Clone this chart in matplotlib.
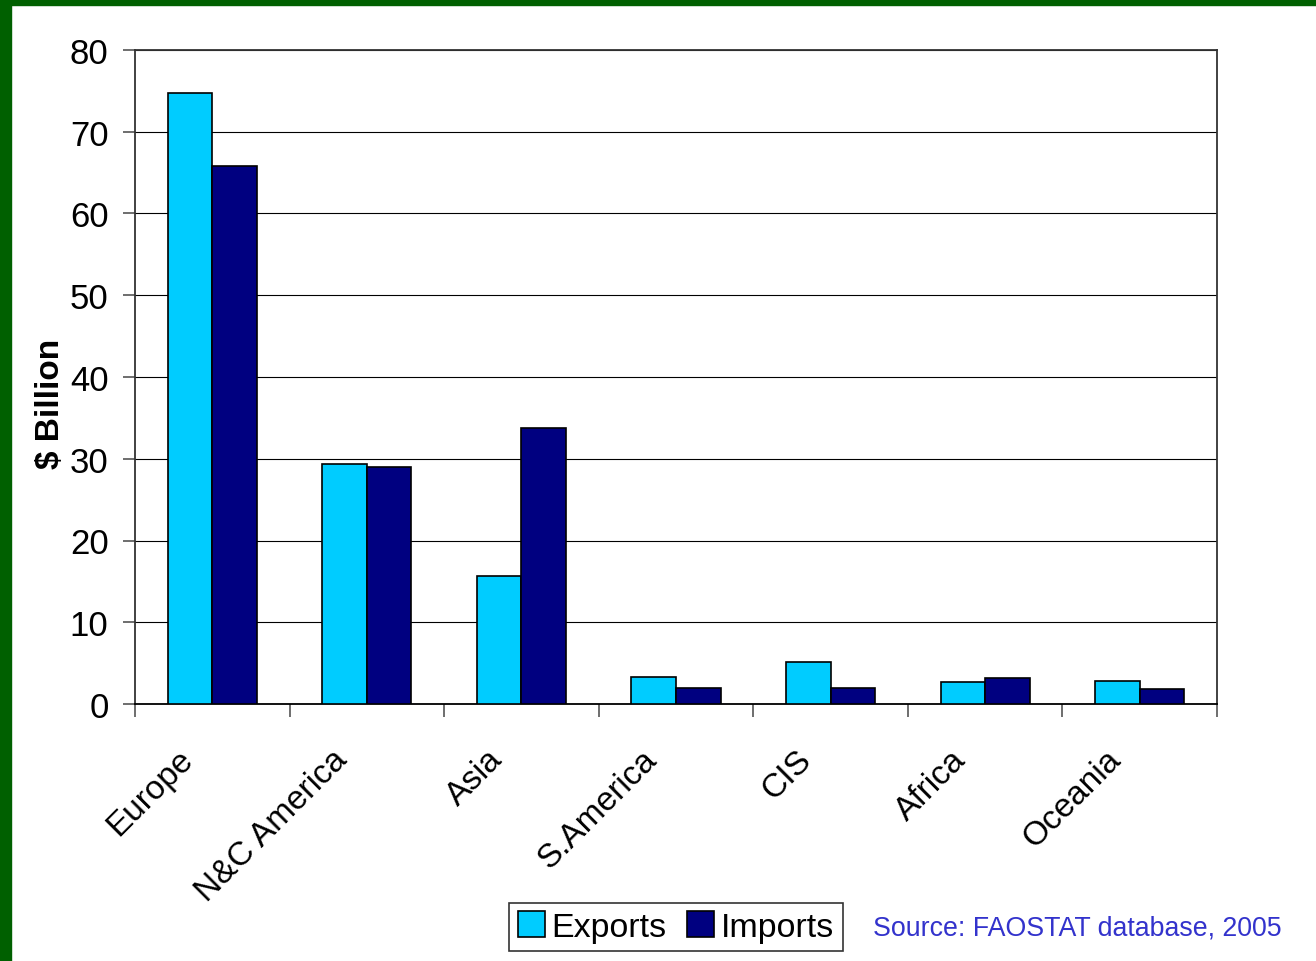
import numpy as np
import matplotlib
matplotlib.use("Agg")
import matplotlib.pyplot as plt
from matplotlib.transforms import ScaledTranslation

plt.rcParams['font.family'] = ['Liberation Sans', 'DejaVu Sans']

# 各地区农产品贸易额（十亿美元）
regions = ['Europe', 'N&C America', 'Asia', 'S.America', 'CIS', 'Africa', 'Oceania']
exports = [74.8, 29.4, 15.7, 3.3, 5.1, 2.7, 2.8]
imports = [65.8, 29.0, 33.8, 2.0, 2.0, 3.2, 1.8]

fig = plt.figure(figsize=(13.16, 9.62), dpi=100)
fig.patch.set_facecolor('white')

# 左侧和顶部的绿色边框
fig.patches.append(plt.Rectangle((0, 0), 11 / 1316, 1, transform=fig.transFigure,
                                 color='#006000', zorder=0))
fig.patches.append(plt.Rectangle((0, 1 - 6 / 962), 1, 6 / 962, transform=fig.transFigure,
                                 color='#006000', zorder=0))

ax = fig.add_axes([135 / 1316, 1 - 705 / 962, (1217 - 135) / 1316, (705 - 51) / 962])

index = np.arange(len(regions))
width = 0.288
ax.bar(index - width / 2, exports, width, color='#00CCFF', edgecolor='black',
       linewidth=1.2, label='Exports', zorder=3)
ax.bar(index + width / 2, imports, width, color='#000080', edgecolor='black',
       linewidth=1.2, label='Imports', zorder=3)

ax.set_xlim(-0.5, len(regions) - 0.5)
ax.set_ylim(0, 80)
ax.set_yticks(np.arange(0, 81, 10))
ax.yaxis.grid(True, color='black', linewidth=0.8, zorder=0)

# x 轴刻度放在类别之间
ax.set_xticks(np.arange(-0.5, len(regions), 1.0))
ax.set_xticklabels([])
ax.set_xticks(index, minor=True)
ax.set_xticklabels(regions, minor=True, rotation=45, ha='right', va='top',
                   rotation_mode='anchor', fontsize=24)
ax.tick_params(axis='x', which='minor', length=0, pad=14)
ax.tick_params(axis='x', which='major', length=9, width=1.2, color='#555555')
ax.tick_params(axis='y', length=9, width=1.2, color='#555555', labelsize=25, pad=10)

# 标签整体向左下平移
offset = ScaledTranslation(-0.35, -0.20, fig.dpi_scale_trans)
for lbl in ax.get_xticklabels(minor=True):
    lbl.set_transform(lbl.get_transform() + offset)

for s in ax.spines.values():
    s.set_linewidth(1.3)
    s.set_color('#333333')
ax.spines['bottom'].set_color('black')

ax.set_ylabel('$ Billion', fontsize=24, fontweight='bold')
ax.yaxis.set_label_coords(-0.064, 0.46)

leg = ax.legend(loc='center', bbox_to_anchor=(676 / 1316, 1 - 928 / 962),
                bbox_transform=fig.transFigure, ncol=2, fontsize=24.5, frameon=True,
                fancybox=False, edgecolor='black', handlelength=0.8, handleheight=0.8,
                handletextpad=0.2, columnspacing=0.6, borderpad=0.25, borderaxespad=0)
leg.get_frame().set_linewidth(1.2)

fig.text(873 / 1316, 1 - 929 / 962, 'Source: FAOSTAT database, 2005',
         color='#3333CC', fontsize=19.3, ha='left', va='center')

plt.savefig('out.png', dpi=100, facecolor='white')
